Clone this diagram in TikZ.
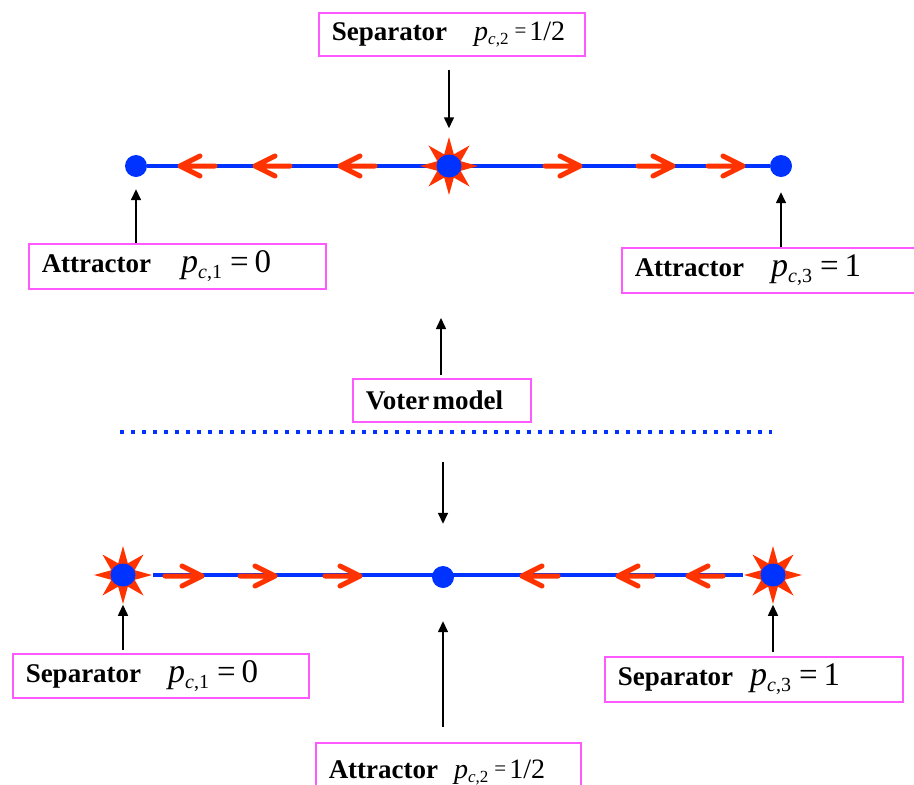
\documentclass[tikz,border=0pt]{standalone}
\usepackage{fontspec}
\setmainfont{Liberation Serif}
\usetikzlibrary{shapes.geometric,arrows.meta,backgrounds}
\definecolor{lineblue}{RGB}{0,51,255}
\definecolor{flowred}{RGB}{255,51,0}
\definecolor{boxpink}{RGB}{255,90,255}
\newcommand{\lbl}[1]{{\fontsize{27}{30}\selectfont\bfseries #1}}
\newcommand{\pbig}[2]{{\fontsize{34}{36}\selectfont\itshape p}\raisebox{-6pt}{\fontsize{20}{21}\selectfont\itshape c\upshape,#1}\hspace{8pt}{\fontsize{33}{36}\selectfont =\hspace{6pt}#2}}
\newcommand{\psmall}[2]{{\fontsize{28}{30}\selectfont\itshape p}\raisebox{-4pt}{\fontsize{17}{18}\selectfont\itshape c\upshape,#1}\hspace{6pt}\raisebox{3pt}{\fontsize{21}{22}\selectfont =}\hspace{3pt}{\fontsize{28}{30}\selectfont #2}}
\begin{document}
\begin{tikzpicture}[x=1pt,y=-1pt]
    \tikzset{
        fpbox/.style={draw=boxpink, line width=1.5pt, rectangle, inner xsep=13pt, inner ysep=0pt, anchor=north west, align=left},
        fpdot/.style={circle, fill=lineblue, inner sep=0pt, minimum size=22pt},
        fpstar/.style={star, star points=8, star point ratio=2.3, fill=flowred, inner sep=0pt, minimum size=58pt},
        fpcore/.style={ellipse, fill=lineblue, inner sep=0pt, minimum width=25pt, minimum height=23pt},
        flowline/.style={draw=lineblue, line width=4.5pt},
        flowarrow/.style={draw=flowred, line width=5pt, line cap=round, line join=round},
        pointer/.style={draw=black, line width=1.5pt, -{Triangle[length=11pt,width=10pt]}},
    }
    \useasboundingbox (0,0) rectangle (914,785);

    % upper line
    \node[fpdot] (a1) at (136,166) {};
    \node[fpdot] (a3) at (781,166) {};
    \node[fpstar] (s2) at (449,166) {};
    \node[fpcore] at (s2) {};
    \begin{scope}[on background layer]
        \draw[flowline] (a1) -- (a3);
    \end{scope}
    \foreach \t/\e in {180/215, 255/290, 340/375}
        \draw[flowarrow] (\e,166) -- (\t,166) (\t+20,156) -- (\t,166) -- (\t+20,176);
    \foreach \e/\t in {545/580, 638/673, 708/743}
        \draw[flowarrow] (\e,166) -- (\t,166) (\t-20,156) -- (\t,166) -- (\t-20,176);

    \node[fpbox, text width=240pt, minimum height=43pt] (sep2) at (318,12)
        {\lbl{Separator}\hspace{27pt}\psmall{2}{1/2}};
    \node[fpbox, text width=271pt, minimum height=45pt] (att1) at (28,243)
        {\lbl{Attractor}\hspace{30pt}\pbig{1}{0}};
    \node[fpbox, text width=268pt, minimum height=45pt] (att3) at (621,247)
        {\lbl{Attractor}\hspace{27pt}\pbig{3}{1}};

    \draw[pointer] ([yshift=-13pt]sep2.south -| s2) -- ([yshift=8pt]s2.north);
    \draw[pointer] (att1.north -| a1) -- ([yshift=-12pt]a1.south);
    \draw[pointer] (att3.north -| a3) -- ([yshift=-15pt]a3.south);

    % voter model
    \node[fpbox, text width=152pt, minimum height=43pt] (voter) at (352,378) {\lbl{Voter model}};
    \coordinate (vtop) at (441,318);
    \draw[pointer] ([yshift=3pt]voter.north -| vtop) -- (vtop);
    \draw[lineblue, line width=4pt, dash pattern=on 4pt off 7pt] (120,432) -- (772,432);

    % lower line
    \node[fpstar] (s1) at (123,575) {};
    \node[fpcore] at (s1) {};
    \node[fpstar] (s3) at (773,575) {};
    \node[fpcore] at (s3) {};
    \node[fpdot] (b2) at (443,577) {};
    \begin{scope}[on background layer]
        \draw[flowline] (s1) -- (s3);
    \end{scope}
    \foreach \e/\t in {165/202, 240/275, 325/360}
        \draw[flowarrow] (\e,576) -- (\t,576) (\t-20,566) -- (\t,576) -- (\t-20,586);
    \foreach \t/\e in {522/558, 618/653, 688/723}
        \draw[flowarrow] (\e,576) -- (\t,576) (\t+20,566) -- (\t,576) -- (\t+20,586);

    \node[fpbox, text width=270pt, minimum height=44pt] (sep1) at (12,653)
        {\lbl{Separator}\hspace{27pt}\pbig{1}{0}};
    \node[fpbox, text width=272pt, minimum height=45pt] (sep3) at (604,656)
        {\lbl{Separator}\hspace{17pt}\pbig{3}{1}};
    \node[fpbox, text width=239pt, minimum height=60pt] (att2) at (315,742)
        {\lbl{Attractor}\hspace{16pt}\psmall{2}{1/2}};

    \coordinate (vlow) at (443,462);
    \draw[pointer] (vlow) -- ([yshift=42pt]b2.north);
    \draw[pointer] ([yshift=15pt]att2.north -| b2) -- ([yshift=-33pt]b2.south);
    \draw[pointer] ([yshift=3pt]sep1.north -| s1) -- (s1.south);
    \draw[pointer] ([yshift=4pt]sep3.north -| s3) -- (s3.south);
\end{tikzpicture}
\end{document}
